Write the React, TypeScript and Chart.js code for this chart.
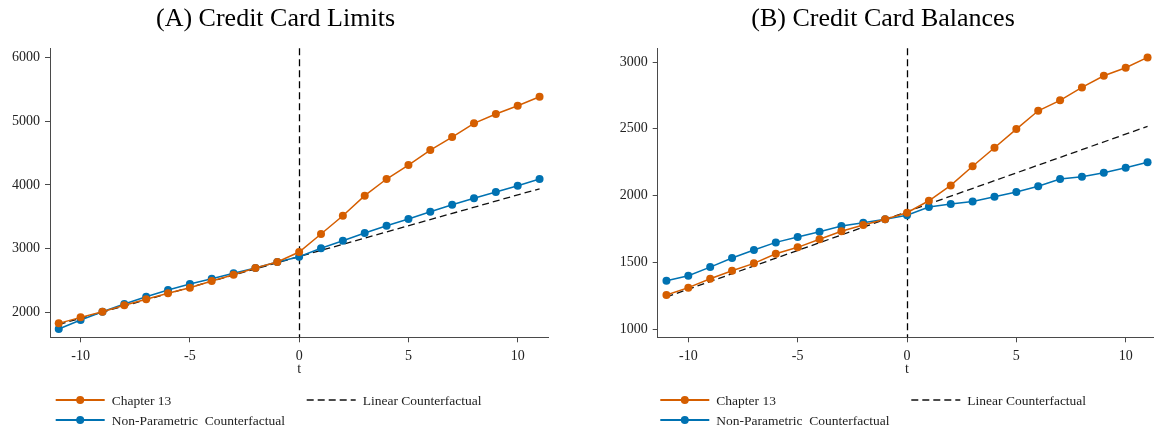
import React, { useEffect, useRef } from 'react';
import { Chart, registerables } from 'chart.js';

Chart.register(...registerables);

// ---------- data ----------
const T_VALUES = [-11, -10, -9, -8, -7, -6, -5, -4, -3, -2, -1, 0, 1, 2, 3, 4, 5, 6, 7, 8, 9, 10, 11];
const X_TICKS = [-10, -5, 0, 5, 10];
const EVENT_T = 0;
const LINEAR_T = [-11, 11];

const LIMITS_TICKS = [2000, 3000, 4000, 5000, 6000];
const LIMITS_CH13 = [1827, 1921, 2010, 2110, 2204, 2298, 2387, 2491, 2590, 2695, 2790, 2947, 3229, 3517, 3831, 4093, 4312, 4548, 4752, 4967, 5113, 5243, 5385];
const LIMITS_NONPARAM = [1738, 1879, 2010, 2130, 2245, 2350, 2444, 2528, 2612, 2695, 2790, 2873, 3005, 3124, 3245, 3360, 3465, 3580, 3689, 3790, 3889, 3988, 4093];
const LIMITS_LINEAR = [1810, 3940];

const BALANCES_TICKS = [1000, 1500, 2000, 2500, 3000];
const BALANCES_CH13 = [1255, 1310, 1377, 1437, 1492, 1564, 1612, 1672, 1732, 1779, 1823, 1871, 1961, 2076, 2219, 2358, 2498, 2635, 2713, 2810, 2897, 2957, 3035];
const BALANCES_NONPARAM = [1362, 1399, 1464, 1532, 1592, 1649, 1689, 1729, 1772, 1796, 1823, 1852, 1914, 1936, 1956, 1991, 2026, 2069, 2124, 2141, 2171, 2208, 2249];
const BALANCES_LINEAR = [1240, 2518];

const LABEL_CH13 = 'Chapter 13';
const LABEL_NONPARAM = 'Non-Parametric  Counterfactual';
const LABEL_LINEAR = 'Linear Counterfactual';

// ---------- styles ----------
const ORANGE = '#D55E00';
const BLUE = '#0072B2';
const AXIS = '#4a4a4a';
const TEXT = '#222222';
const FONT = "'Liberation Serif', 'Times New Roman', serif";

interface PanelSpec {
  title: string;
  left: number;
  width: number;
  yAxisWidth: number;
  padRight: number;
  yMin: number;
  yMax: number;
  yTicks: number[];
  ch13: number[];
  nonparam: number[];
  linear: number[];
  titleX: number;
  legendLineX: number;
  legendDashX: number;
}

const PANELS: PanelSpec[] = [
  {
    title: '(A) Credit Card Limits',
    left: 0,
    width: 577,
    yAxisWidth: 50,
    padRight: 28.7,
    yMin: 1608,
    yMax: 6145,
    yTicks: LIMITS_TICKS,
    ch13: LIMITS_CH13,
    nonparam: LIMITS_NONPARAM,
    linear: LIMITS_LINEAR,
    titleX: 275.5,
    legendLineX: 55.7,
    legendDashX: 306.7,
  },
  {
    title: '(B) Credit Card Balances',
    left: 577,
    width: 590,
    yAxisWidth: 80.7,
    padRight: 10.7,
    yMin: 938,
    yMax: 3103,
    yTicks: BALANCES_TICKS,
    ch13: BALANCES_CH13,
    nonparam: BALANCES_NONPARAM,
    linear: BALANCES_LINEAR,
    titleX: 306,
    legendLineX: 83.3,
    legendDashX: 334.3,
  },
];

const decorPlugin = {
  id: 'panelDecor',
  beforeDatasetsDraw(chart: any) {
    const { ctx, chartArea } = chart;
    const x = Math.round(chart.scales.x.getPixelForValue(EVENT_T)) + 0.5;
    ctx.save();
    ctx.strokeStyle = '#000';
    ctx.lineWidth = 1.3;
    ctx.setLineDash([7, 4]);
    ctx.beginPath();
    ctx.moveTo(x, chartArea.top);
    ctx.lineTo(x, chartArea.bottom);
    ctx.stroke();
    ctx.restore();
  },
  afterDraw(chart: any, _args: any, opts: any) {
    const { ctx } = chart;
    ctx.save();
    // title
    ctx.fillStyle = '#000';
    ctx.font = `26px ${FONT}`;
    ctx.textAlign = 'center';
    ctx.textBaseline = 'alphabetic';
    ctx.fillText(opts.title, opts.titleX, 26);

    // legend
    const items = [
      { ds: 0, x: opts.legendLineX, y: 400 },
      { ds: 2, x: opts.legendDashX, y: 400 },
      { ds: 1, x: opts.legendLineX, y: 420 },
    ];
    ctx.font = `13.5px ${FONT}`;
    ctx.textAlign = 'left';
    ctx.textBaseline = 'middle';
    for (const it of items) {
      const d = chart.data.datasets[it.ds];
      const len = 49;
      ctx.save();
      ctx.strokeStyle = d.borderColor;
      ctx.lineWidth = d.borderDash ? 1.3 : 2;
      ctx.setLineDash(d.borderDash || []);
      ctx.beginPath();
      ctx.moveTo(it.x, it.y);
      ctx.lineTo(it.x + len, it.y);
      ctx.stroke();
      if (!d.borderDash) {
        ctx.fillStyle = d.pointBackgroundColor;
        ctx.beginPath();
        ctx.arc(it.x + len / 2, it.y, 4, 0, Math.PI * 2);
        ctx.fill();
      }
      ctx.restore();
      ctx.fillStyle = TEXT;
      ctx.fillText(d.label, it.x + len + 7, it.y + 1);
    }
    ctx.restore();
  },
};

function Panel({ spec }: { spec: PanelSpec }) {
  const ref = useRef<HTMLCanvasElement | null>(null);

  useEffect(() => {
    if (!ref.current) return;
    const chart = new Chart(ref.current, {
      type: 'line',
      data: {
        datasets: [
          {
            label: LABEL_CH13,
            data: T_VALUES.map((t, i) => ({ x: t, y: spec.ch13[i] })),
            borderColor: ORANGE,
            backgroundColor: ORANGE,
            pointBackgroundColor: ORANGE,
            pointBorderWidth: 0,
            pointRadius: 4,
            borderWidth: 1.5,
            tension: 0,
          },
          {
            label: LABEL_NONPARAM,
            data: T_VALUES.map((t, i) => ({ x: t, y: spec.nonparam[i] })),
            borderColor: BLUE,
            backgroundColor: BLUE,
            pointBackgroundColor: BLUE,
            pointBorderWidth: 0,
            pointRadius: 4,
            borderWidth: 1.5,
            tension: 0,
          },
          {
            label: LABEL_LINEAR,
            data: LINEAR_T.map((t, i) => ({ x: t, y: spec.linear[i] })),
            borderColor: '#111',
            backgroundColor: '#111',
            borderDash: [7, 4],
            pointRadius: 0,
            borderWidth: 1.3,
            tension: 0,
          },
        ] as any,
      },
      options: {
        animation: false,
        responsive: false,
        events: [],
        layout: { padding: { top: 48.3, left: 0, right: spec.padRight, bottom: 0 } },
        scales: {
          x: {
            type: 'linear',
            min: -11.4,
            max: 11.4,
            afterBuildTicks: (s: any) => {
              s.ticks = X_TICKS.map((v) => ({ value: v }));
            },
            afterFit: (s: any) => {
              s.height = 431 - 337.3;
            },
            border: { display: true, color: AXIS, width: 1 },
            grid: { drawOnChartArea: false, drawTicks: true, tickLength: 5, color: AXIS },
            ticks: {
              color: TEXT,
              font: { family: FONT, size: 14 },
              padding: 6,
              maxRotation: 0,
              callback: (v: any) => String(v),
            },
            title: {
              display: true,
              text: 't',
              color: TEXT,
              font: { family: FONT, size: 14 },
              padding: { top: 0, bottom: 53 },
            },
          },
          y: {
            type: 'linear',
            min: spec.yMin,
            max: spec.yMax,
            afterBuildTicks: (s: any) => {
              s.ticks = spec.yTicks.map((v) => ({ value: v }));
            },
            afterFit: (s: any) => {
              s.width = spec.yAxisWidth;
            },
            border: { display: true, color: AXIS, width: 1 },
            grid: { drawOnChartArea: false, drawTicks: true, tickLength: 5, color: AXIS },
            ticks: {
              color: TEXT,
              font: { family: FONT, size: 14 },
              padding: 5,
              callback: (v: any) => String(v),
            },
          },
        },
        plugins: {
          legend: { display: false },
          tooltip: { enabled: false },
          title: { display: false },
          panelDecor: {
            title: spec.title,
            titleX: spec.titleX,
            legendLineX: spec.legendLineX,
            legendDashX: spec.legendDashX,
          },
        } as any,
      },
      plugins: [decorPlugin],
    });
    return () => chart.destroy();
  }, [spec]);

  return (
    <canvas
      ref={ref}
      width={spec.width}
      height={431}
      style={{ position: 'absolute', left: spec.left, top: 0, width: spec.width, height: 431 }}
    />
  );
}

export default function App() {
  return (
    <div
      style={{
        position: 'absolute',
        left: 0,
        top: 0,
        width: 1154,
        height: 431,
        overflow: 'hidden',
        background: '#fff',
      }}
    >
      {PANELS.map((p) => (
        <Panel key={p.title} spec={p} />
      ))}
    </div>
  );
}
